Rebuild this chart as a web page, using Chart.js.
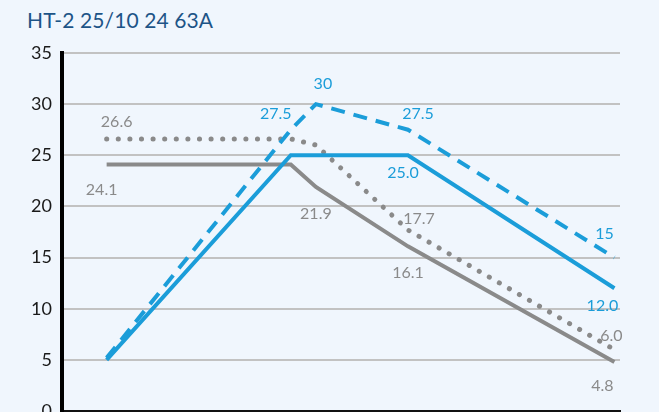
<!DOCTYPE html>
<html>
<head>
<meta charset="utf-8">
<script src="https://cdn.jsdelivr.net/npm/chart.js@4.4.1/dist/chart.umd.min.js"></script>
<style>
  html, body { margin: 0; padding: 0; background: #f0f6fd; overflow: hidden; }
  #title {
    position: absolute; left: 27px; top: 7px;
    font-family: Lato, "Noto Sans", sans-serif; font-size: 21px;
    color: #1d5487; letter-spacing: 0.1px;
  }
  #chart { position: absolute; left: 0; top: 0; }
</style>
</head>
<body>
<div id="title">HT-2 25/10 24 63A</div>
<canvas id="chart" width="659" height="440"></canvas>
<script>
// x positions of the breakpoints (hidden axis, 0-100)
const xPoints = [8, 41, 45.5, 62, 99];

const blueSolid  = [5, 25, 25, 25, 12];
const blueDashed = [5.2, 27.5, 30, 27.5, 15];
const greySolid  = [24.1, 24.1, 21.9, 16.1, 4.8];
const greyDotted = [26.6, 26.6, 26, 17.7, 6.0];

const blueSolidLabels  = [null, null, null, "25.0", "12.0"];
const blueDashedLabels = [null, "27.5", "30", "27.5", "15"];
const greySolidLabels  = ["24.1", null, "21.9", "16.1", "4.8"];
const greyDottedLabels = ["26.6", null, null, "17.7", "6.0"];

const yTicks = [0, 5, 10, 15, 20, 25, 30, 35];

const BLUE = "#1b9dd9";
const GREY = "#8a8a8a";

function pts(vals) {
  return vals.map((v, i) => ({ x: xPoints[i], y: v }));
}

// label offsets relative to each point
const labelOffsets = {
  0: [null, null, null, [-5, 18], [-12, 18]],
  1: [null, [-15, -16], [7, -20], [10, -16], [-10, -24]],
  2: [[-5, 25], null, [0, 27], [0, 27], [-12, 24]],
  3: [[10, -17], null, null, [11, -11], [-3, -14]]
};
const labelSets = [blueSolidLabels, blueDashedLabels, greySolidLabels, greyDottedLabels];

const valueLabels = {
  id: "valueLabels",
  afterDatasetsDraw(chart) {
    const ctx = chart.ctx;
    ctx.save();
    ctx.font = "16px Lato, 'Noto Sans', sans-serif";
    ctx.textAlign = "center";
    ctx.textBaseline = "middle";
    chart.data.datasets.forEach((ds, di) => {
      const meta = chart.getDatasetMeta(di);
      labelSets[di].forEach((txt, i) => {
        if (!txt) return;
        const p = meta.data[i];
        const off = labelOffsets[di][i];
        ctx.fillStyle = ds.borderColor;
        ctx.fillText(txt, p.x + off[0], p.y + off[1]);
      });
    });
    ctx.restore();
  }
};

const ctx = document.getElementById("chart").getContext("2d");
new Chart(ctx, {
  type: "line",
  data: {
    datasets: [
      { data: pts(blueSolid), borderColor: BLUE, borderWidth: 4 },
      { data: pts(blueDashed), borderColor: BLUE, borderWidth: 4, borderDash: [14, 9] },
      { data: pts(greySolid), borderColor: GREY, borderWidth: 4 },
      { data: pts(greyDotted), borderColor: GREY, borderWidth: 5, borderDash: [0.1, 11.5], borderCapStyle: "round" }
    ]
  },
  options: {
    responsive: false,
    animation: false,
    layout: { padding: { top: 53, right: 39, bottom: 29, left: 0 } },
    elements: { point: { radius: 0 }, line: { tension: 0, borderJoinStyle: "miter" } },
    plugins: { legend: { display: false }, tooltip: { enabled: false } },
    scales: {
      x: {
        type: "linear", min: 0, max: 100,
        ticks: { display: false },
        grid: { display: false },
        border: { color: "#111", width: 2 },
        afterFit(s) { s.height = 0; }
      },
      y: {
        min: 0, max: 35,
        afterBuildTicks(s) { s.ticks = yTicks.map(v => ({ value: v })); },
        ticks: {
          color: "#1a1a1a", padding: 10,
          font: { family: "Lato, 'Noto Sans', sans-serif", size: 18 }
        },
        grid: { color: "#c2c2c2", lineWidth: 2, drawTicks: false },
        border: { color: "#000", width: 4 },
        afterFit(s) { s.width = 62; }
      }
    }
  },
  plugins: [valueLabels]
});
</script>
</body>
</html>
